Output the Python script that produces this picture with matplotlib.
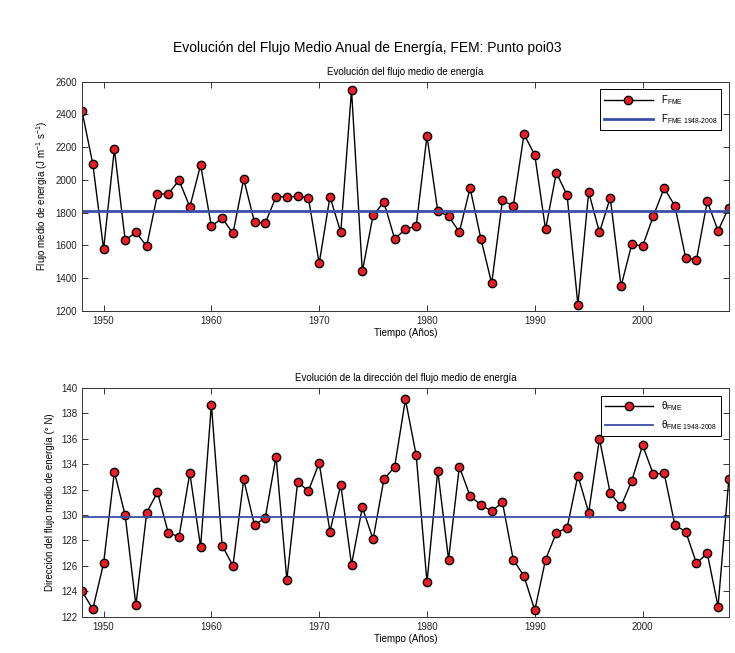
import matplotlib

matplotlib.use("Agg")
import matplotlib.pyplot as plt
import numpy as np

plt.rcParams["font.family"] = ["Liberation Sans", "DejaVu Sans"]
plt.rcParams["mathtext.fontset"] = "custom"
plt.rcParams["mathtext.rm"] = "Liberation Sans"
plt.rcParams["mathtext.it"] = "Liberation Sans:italic"

years = np.arange(1948, 2009)

# flujo medio anual de energía (J m^-1 s^-1)
flujo = [2420, 2097, 1577, 2188, 1632, 1679, 1595, 1911, 1915, 1997,
         1834, 2091, 1716, 1766, 1673, 2005, 1740, 1736, 1897, 1895,
         1899, 1891, 1489, 1897, 1679, 2549, 1440, 1783, 1864, 1640,
         1697, 1718, 2268, 1809, 1779, 1681, 1950, 1640, 1367, 1874,
         1840, 2278, 2152, 1697, 2044, 1905, 1235, 1925, 1679, 1891,
         1349, 1607, 1595, 1779, 1950, 1840, 1522, 1512, 1868, 1689,
         1830]
flujo_medio = 1808

# dirección del flujo medio (° N)
direccion = [124.0, 122.6, 126.2, 133.4, 130.0, 122.9, 130.2, 131.8, 128.6, 128.3,
             133.3, 127.5, 138.7, 127.6, 126.0, 132.8, 129.2, 129.8, 134.6, 124.9,
             132.6, 131.9, 134.1, 128.7, 132.4, 126.1, 130.6, 128.1, 132.8, 133.8,
             139.1, 134.7, 124.7, 133.5, 126.5, 133.8, 131.5, 130.8, 130.3, 131.0,
             126.5, 125.2, 122.5, 126.5, 128.6, 129.0, 133.1, 130.2, 136.0, 131.7,
             130.7, 132.7, 135.5, 133.2, 133.3, 129.2, 128.7, 126.2, 127.0, 122.8,
             132.8]
direccion_media = 129.85

fig = plt.figure(figsize=(7.35, 6.53), dpi=100)
fig.suptitle("Evolución del Flujo Medio Anual de Energía, FEM: Punto poi03",
             fontsize=10, y=0.937)

ax1 = fig.add_axes([0.1116, 0.5242, 0.880, 0.3507])
ax2 = fig.add_axes([0.1116, 0.0556, 0.880, 0.3502])

mk = dict(color="black", lw=1.0, marker="o", ms=6, mfc="#ee1c25", mec="black", mew=1.0)

ax1.plot(years, flujo, label=r"F$_{\mathrm{FME}}$", **mk)
ax1.axhline(flujo_medio, color="#3a4ea6", lw=2.0, label=r"F$_{\mathrm{FME\ 1948\text{-}2008}}$")
ax1.set_ylim(1200, 2600)
ax1.set_yticks(np.arange(1200, 2601, 200))
ax1.set_title("Evolución del flujo medio de energía", fontsize=7, pad=5)
ax1.set_ylabel(r"Flujo medio de energía (J m$^{-1}$ s$^{-1}$)", fontsize=7)

ax2.plot(years, direccion, label=r"θ$_{\mathrm{FME}}$", **mk)
ax2.axhline(direccion_media, color="#3a4ea6", lw=1.3, label=r"θ$_{\mathrm{FME\ 1948\text{-}2008}}$")
ax2.set_ylim(122, 140)
ax2.set_yticks(np.arange(122, 141, 2))
ax2.set_title("Evolución de la dirección del flujo medio de energía", fontsize=7, pad=5)
ax2.set_ylabel("Dirección del flujo medio de energía (° N)", fontsize=7)

for ax in (ax1, ax2):
    ax.set_xlim(1948, 2008)
    ax.set_xticks(np.arange(1950, 2001, 10))
    ax.set_xlabel("Tiempo (Años)", fontsize=7, labelpad=2)
    ax.tick_params(direction="in", top=True, right=True, length=4, width=0.7,
                   labelsize=7, color="#333333", labelcolor="#222222")
    for s in ax.spines.values():
        s.set_linewidth(0.7)
        s.set_color("#333333")
    leg = ax.legend(loc="upper right", fontsize=7, fancybox=False, framealpha=1,
                    edgecolor="black", handlelength=5, borderaxespad=0.8)
    leg.get_frame().set_linewidth(0.7)

fig.savefig("out.png", dpi=100)
